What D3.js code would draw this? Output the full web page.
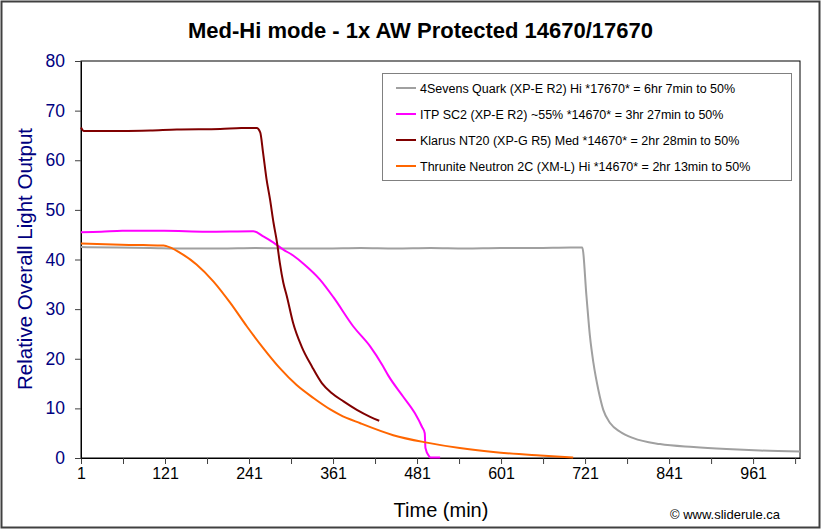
<!DOCTYPE html>
<html><head><meta charset="utf-8">
<script src="https://cdn.jsdelivr.net/npm/d3@7"></script>
<style>body{margin:0;background:#fff;} text{font-family:Arial,"Liberation Sans",sans-serif;}</style>
</head><body><svg id="c" width="822" height="530"></svg>
<script>
// ---- data (minutes, relative output) ----
const seriesNames = [
  "4Sevens Quark (XP-E R2) Hi *17670* = 6hr 7min to 50%",
  "ITP SC2 (XP-E R2) ~55% *14670* = 3hr 27min to 50%",
  "Klarus NT20 (XP-G R5) Med *14670* = 2hr 28min to 50%",
  "Thrunite Neutron 2C (XM-L) Hi *14670* = 2hr 13min to 50%"
];
const seriesColors = ["#A0A0A0", "#FF00FF", "#800000", "#FF6600"];

const quarkT = [1, 50, 100, 150, 200, 250, 300, 350, 400, 450, 500, 550, 600, 650, 700, 717, 723, 728, 733, 740, 747, 757, 771, 790, 828, 876, 923, 971, 1028];
const quarkV = [42.5, 42.4, 42.3, 42.2, 42.2, 42.3, 42.2, 42.2, 42.3, 42.2, 42.3, 42.2, 42.3, 42.3, 42.4, 42.4, 32.6, 24.5, 19.1, 13.7, 9.7, 7.0, 5.3, 4.0, 2.8, 2.2, 1.8, 1.5, 1.3];

const itpT = [1, 30, 60, 120, 180, 247, 262, 276, 290, 304, 320, 342, 362, 390, 414, 432, 440, 461, 478, 488, 492, 493, 498, 500, 514];
const itpV = [45.5, 45.6, 45.8, 45.8, 45.6, 45.7, 44.6, 43.4, 42.0, 40.8, 39.0, 36.0, 32.3, 26.5, 22.5, 18.6, 16.6, 12.4, 9.0, 6.3, 5.0, 2.0, 0.4, 0.1, 0.1];

const klarusT = [1, 5, 60, 100, 138, 200, 230, 252, 257, 261, 266, 271, 276, 281, 285, 290, 295, 304, 316, 331, 345, 359, 376, 395, 414, 427];
const klarusV = [66.6, 65.9, 65.9, 66.0, 66.2, 66.3, 66.5, 66.5, 65.6, 61.6, 56.2, 52.1, 47.4, 43.4, 39.3, 35.3, 32.6, 27.2, 22.5, 18.4, 15.1, 13.1, 11.4, 9.7, 8.3, 7.5];

const thruniteT = [1, 47, 90, 119, 123, 142, 166, 190, 214, 238, 261, 285, 309, 333, 357, 371, 400, 447, 495, 542, 590, 657, 704];
const thruniteV = [43.2, 43.0, 42.9, 42.8, 42.7, 41.4, 39.0, 35.6, 31.3, 26.5, 22.2, 18.1, 14.7, 12.1, 9.8, 8.7, 7.0, 4.6, 3.1, 2.0, 1.2, 0.5, 0.1];

const xTickValues = [1, 61, 121, 181, 241, 301, 361, 421, 481, 541, 601, 661, 721, 781, 841, 901, 961, 1021];
const xTickLabels = [1, 121, 241, 361, 481, 601, 721, 841, 961];
const yTickValues = [0, 10, 20, 30, 40, 50, 60, 70, 80];

const titleText = "Med-Hi mode - 1x AW Protected 14670/17670";
const xTitle = "Time (min)";
const yTitle = "Relative Overall Light Output";
const credit = "\u00A9 www.sliderule.ca";

// ---- drawing ----
const svg = d3.select("#c");
const L = 81, R = 800, T = 61, B = 458;

svg.append("rect").attr("x", 1.5).attr("y", 1.5).attr("width", 818).attr("height", 526)
  .attr("fill", "#fff").attr("stroke", "#404040").attr("stroke-width", 2);

const x = d3.scaleLinear().domain([1, 1028]).range([L, R]);
const y = d3.scaleLinear().domain([0, 80]).range([B, T]);

svg.append("rect").attr("x", L).attr("y", T).attr("width", R - L).attr("height", B - T)
  .attr("fill", "#fff").attr("stroke", "#000").attr("stroke-width", 1);

// x axis
const xAxis = d3.axisBottom(x).tickValues(xTickValues).tickSize(6).tickSizeOuter(0)
  .tickFormat(d => xTickLabels.includes(d) ? d : "");
const gx = svg.append("g").attr("transform", `translate(0,${B})`).call(xAxis);
gx.select(".domain").attr("stroke", "#000");
gx.selectAll(".tick line").attr("stroke", "#404040");
gx.selectAll("text").attr("fill", "#000").style("font-size", "16px").attr("dy", "0.71em").attr("y", 10)
  .style("font-family", "Arial, 'Liberation Sans', sans-serif");

// y axis
const yAxis = d3.axisLeft(y).tickValues(yTickValues).tickSize(6).tickSizeOuter(0);
const gy = svg.append("g").attr("transform", `translate(${L},0)`).call(yAxis);
gy.select(".domain").attr("stroke", "#000");
gy.selectAll(".tick line").attr("stroke", "#404040");
gy.selectAll("text").attr("fill", "#000080").style("font-size", "17.5px").attr("x", -16)
  .style("font-family", "Arial, 'Liberation Sans', sans-serif");

// lines
const allT = [quarkT, itpT, klarusT, thruniteT];
const allV = [quarkV, itpV, klarusV, thruniteV];
const line = d3.line().x(d => x(d[0])).y(d => y(d[1])).curve(d3.curveMonotoneX);
const plot = svg.append("g");
[0, 1, 3, 2].forEach(i => {
  const pts = allT[i].map((t, k) => [t, allV[i][k]]);
  plot.append("path").datum(pts).attr("d", line).attr("fill", "none")
    .attr("stroke", seriesColors[i]).attr("stroke-width", 2).attr("stroke-linejoin", "round");
});

// legend
const lg = svg.append("g");
lg.append("rect").attr("x", 382.5).attr("y", 73.5).attr("width", 409).attr("height", 107)
  .attr("fill", "#fff").attr("stroke", "#808080").attr("stroke-width", 1);
seriesNames.forEach((n, i) => {
  const yy = 88 + i * 26;
  lg.append("line").attr("x1", 396).attr("x2", 416).attr("y1", yy).attr("y2", yy)
    .attr("stroke", seriesColors[i]).attr("stroke-width", 2);
  lg.append("text").attr("x", 420).attr("y", yy + 4.5).text(n).style("font-size", "12.5px").attr("fill", "#000");
});

// titles
svg.append("text").attr("x", 188).attr("y", 38).attr("text-anchor", "start")
  .style("font-size", "22px").style("font-weight", "bold").text(titleText);
svg.append("text").attr("x", 441).attr("y", 517).attr("text-anchor", "middle")
  .style("font-size", "20px").text(xTitle);
svg.append("text").attr("transform", "translate(32,259) rotate(-90)").attr("text-anchor", "middle")
  .style("font-size", "20.5px").attr("fill", "#000080").text(yTitle);
svg.append("text").attr("x", 780).attr("y", 519).attr("text-anchor", "end")
  .style("font-size", "13px").text(credit);
</script></body></html>
